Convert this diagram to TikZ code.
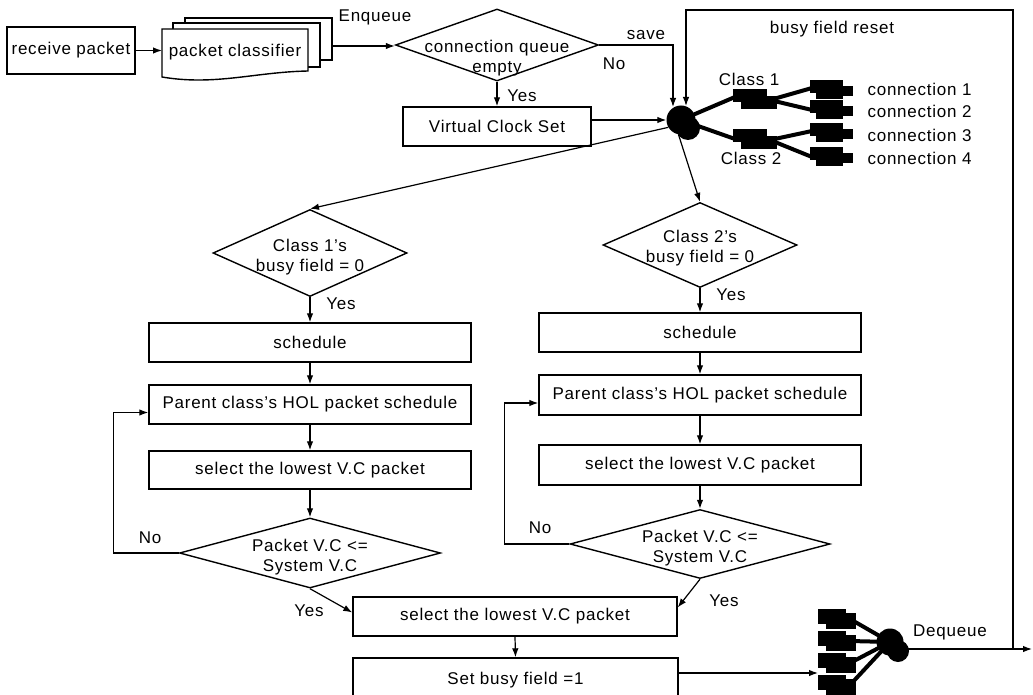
\documentclass[tikz,border=0pt]{standalone}
\usepackage{fontspec}
\setmainfont{Liberation Sans}[LetterSpace=4.5]
\usetikzlibrary{shapes.geometric,arrows.meta,calc}
\begin{document}
\begin{tikzpicture}[x=1pt,y=-1pt,
  font=\fontsize{17}{20}\selectfont,
  box/.style={draw,line width=1.4pt,rectangle,inner sep=0pt,fill=white},
  dia/.style={draw,line width=1.4pt,diamond,inner sep=0pt},
  txt/.style={inner sep=0pt,align=center},
  arr/.style={line width=1.2pt,-{Latex[length=9pt,width=6.5pt]}},
  thk/.style={line width=4pt},
  doc/.style={fill=white,line width=1.4pt}
]
\useasboundingbox (0,0) rectangle (1033,695);
\clip (0,0) rectangle (1033,695);

% receive packet and classifier
\node[box,minimum width=128pt,minimum height=47pt] (recv) at (71,50.5) {receive packet};
\filldraw[doc] (185,18) rectangle (332,60);
\filldraw[doc] (173,23) rectangle (320,67);
\filldraw[doc] (162,29) -- (308,29) -- (308,71) .. controls (255,72) and (215,86) .. (162,77) -- cycle;
\node[txt] (cls) at (235,52) {packet classifier};
\coordinate (clsin) at (162,50.5);
\coordinate (clsout) at (332,46);
\draw[arr] (recv.east) -- (clsin);

% connection queue empty
\node[dia,minimum width=203pt,minimum height=72pt] (cq) at (497,45) {};
\node[txt] (cqt) at (497,58) {connection queue\\empty};
\node (enq) at (375,17) {Enqueue};
\draw[arr] (clsout) -- (clsout -| cq.west);

\node[box,minimum width=188pt,minimum height=39pt] (vcs) at (497,126.5) {Virtual Clock Set};
\draw[arr] (cq.south) -- (vcs.north);
\node (yes0) at (522,96) {Yes};

% top-right tree
\draw[thk] (681,120) -- (735,97);
\draw[thk] (681,120) -- (735,139);
\draw[thk] (770,100) -- (812,88);
\draw[thk] (770,100) -- (812,110);
\draw[thk] (770,140) -- (812,131);
\draw[thk] (770,140) -- (812,157);
\fill (688,128) circle (12pt);
\node[circle,fill,inner sep=0pt,minimum size=29pt] (b1) at (681,120) {};
\fill (733,89) rectangle (767,102);
\fill (741,96) rectangle (777,109);
\fill (733,129) rectangle (767,142);
\fill (741,136) rectangle (777,149);
\foreach \t in {80,100,123,147}{
  \fill (810,\t) rectangle (843,\t+13);
  \fill (816,\t+4) rectangle (843,\t+19);
  \fill (843,\t+6) rectangle (853,\t+16);
}
\node (cl1) at (749,79) {Class 1};
\node (cl2) at (751,158) {Class 2};
\node[anchor=west] (cn1) at (864,89) {connection 1};
\node[anchor=west] (cn2) at (864,111) {connection 2};
\node[anchor=west] (cn3) at (864,135) {connection 3};
\node[anchor=west] (cn4) at (864,158) {connection 4};

\coordinate (b1a) at (673,107);
\coordinate (b1b) at (686,106);
\draw[arr] (cq.east) -| (b1a);
\node (save) at (646,35) {save};
\node (no0) at (614,64) {No};
\draw[arr] (vcs.east |- b1.west) -- (b1.west);

% dequeue
\foreach \t in {609,631,653,675}{
  \draw[thk] (890,642) -- (850,\t+10);
}
\foreach \t in {609,631,653,675}{
  \fill (818,\t) rectangle (846,\t+15);
  \fill (826,\t+4) rectangle (856,\t+20);
}
\fill (898,651) circle (11pt);
\node[circle,fill,inner sep=0pt,minimum size=27pt] (b2) at (890,642) {};
\coordinate (rs) at (1013,649);
\coordinate (tr) at (1013,10);
\coordinate (dqend) at (1032,649);
\draw[arr] (b2.east |- rs) -- (dqend);
\draw[arr] (rs) -- (tr) -| (b1b);
\node (bfr) at (832,29) {busy field reset};
\node (dq) at (950,632) {Dequeue};
\coordinate (dqin) at (818,673);

% class diamonds
\node[dia,minimum width=194pt,minimum height=87pt] (c1) at (310,253) {};
\node[txt] (c1t) at (310,257) {Class 1's\\busy field = 0};
\node[dia,minimum width=194pt,minimum height=85pt] (c2) at (700,245) {};
\node[txt] (c2t) at (700,248) {Class 2's\\busy field = 0};
\draw[arr] (b1.210) -- (c1.north);
\draw[arr] (b1.260) -- (c2.north);

% left column
\node[box,minimum width=322pt,minimum height=39pt] (sch1) at (310,342.5) {schedule};
\node[box,minimum width=322pt,minimum height=39pt] (par1) at (310,404.5) {Parent class's HOL packet schedule};
\node[box,minimum width=322pt,minimum height=38pt] (sel1) at (310,470) {select the lowest V.C packet};
\node[dia,minimum width=261pt,minimum height=70pt] (d1) at (310,553) {};
\node[txt] (d1t) at (310,557) {Packet V.C <=\\System V.C};
\draw[arr] (c1.south) -- (sch1.north);
\node (yes1) at (341,304) {Yes};
\draw[arr] (sch1.south) -- (par1.north);
\draw[arr] (par1.south) -- (sel1.north);
\draw[arr] (sel1.south) -- (d1.north);
\draw[arr] (d1.west) -- ++(-65,0) |- ($(par1.west)+(0,8)$);
\node (no1) at (150,538) {No};

% right column
\node[box,minimum width=322pt,minimum height=39pt] (sch2) at (700,332.5) {schedule};
\node[box,minimum width=322pt,minimum height=40pt] (par2) at (700,395) {Parent class's HOL packet schedule};
\node[box,minimum width=322pt,minimum height=40pt] (sel2) at (700,465) {select the lowest V.C packet};
\node[dia,minimum width=260pt,minimum height=69pt] (d2) at (700,544) {};
\node[txt] (d2t) at (700,548) {Packet V.C <=\\System V.C};
\draw[arr] (c2.south) -- (sch2.north);
\node (yes2) at (731,295) {Yes};
\draw[arr] (sch2.south) -- (par2.north);
\draw[arr] (par2.south) -- (sel2.north);
\draw[arr] (sel2.south) -- (d2.north);
\draw[arr] (d2.west) -- ++(-65,0) |- ($(par2.west)+(0,8)$);
\node (no2) at (540,528) {No};

% bottom
\node[box,minimum width=324pt,minimum height=39pt] (selB) at (515,616.5) {select the lowest V.C packet};
\node[box,minimum width=325pt,minimum height=44pt] (setB) at (515.5,680) {Set busy field =1};
\draw[arr] (d1.south) -- ($(selB.west)+(0,-4)$);
\node (yes3) at (309,611) {Yes};
\draw[arr] (d2.south) -- ($(selB.east)+(0,-9)$);
\node (yes4) at (724,601) {Yes};
\draw[arr] (selB.south) -- (setB.north);
\draw[arr] (setB.east |- dqin) -- (dqin);
\end{tikzpicture}
\end{document}
